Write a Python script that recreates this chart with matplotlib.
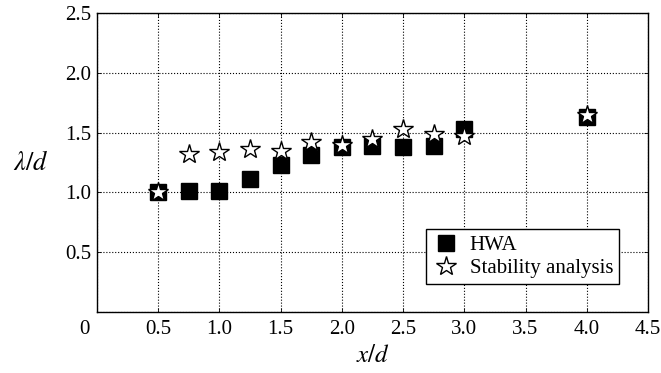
import numpy as np
import matplotlib.pyplot as plt
import matplotlib.transforms as mtransforms

plt.rcParams['font.family'] = 'Liberation Serif'
plt.rcParams['mathtext.fontset'] = 'stix'

# HWA measurements
x_hwa = [0.5, 0.75, 1.0, 1.25, 1.5, 1.75, 2.0, 2.25, 2.5, 2.75, 3.0, 4.0]
y_hwa = [1.00, 1.01, 1.01, 1.11, 1.23, 1.31, 1.38, 1.39, 1.38, 1.39, 1.53, 1.63]

# stability analysis
x_sa = [0.5, 0.75, 1.0, 1.25, 1.5, 1.75, 2.0, 2.25, 2.5, 2.75, 3.0, 4.0]
y_sa = [1.00, 1.32, 1.34, 1.36, 1.35, 1.42, 1.40, 1.45, 1.53, 1.49, 1.47, 1.65]

xticks = [0, 0.5, 1.0, 1.5, 2.0, 2.5, 3.0, 3.5, 4.0, 4.5]
xticklabels = ['0', '0.5', '1.0', '1.5', '2.0', '2.5', '3.0', '3.5', '4.0', '4.5']
yticks = [0, 0.5, 1.0, 1.5, 2.0, 2.5]
yticklabels = ['', '0.5', '1.0', '1.5', '2.0', '2.5']

fig = plt.figure(figsize=(6.61, 3.73), dpi=100)
ax = fig.add_axes([0.1467, 0.1635, 0.8336, 0.8015])

ax.plot(x_hwa, y_hwa, 's', color='black', markersize=11, label='HWA', zorder=3)
ax.plot(x_sa, y_sa, '*', markerfacecolor='white', markeredgecolor='black',
        markeredgewidth=1.0, markersize=15, label='Stability analysis', zorder=4)

ax.set_xlim(0, 4.5)
ax.set_ylim(0, 2.5)
ax.set_xticks(xticks)
ax.set_xticklabels(xticklabels)
ax.set_yticks(yticks)
ax.set_yticklabels(yticklabels)

ax.tick_params(direction='in', top=True, right=True, labelsize=15, length=3, width=0.6)
ax.tick_params(axis='x', pad=6)
ax.tick_params(axis='y', pad=4)
ax.grid(True, linestyle=':', color='black', linewidth=0.8)
for s in ax.spines.values():
    s.set_linewidth(1.0)

# matlab export puts the "0" a bit to the left of the axis
lab0 = ax.get_xticklabels()[0]
lab0.set_transform(lab0.get_transform() + mtransforms.ScaledTranslation(-13 / 100, 0, fig.dpi_scale_trans))

ax.set_xlabel('$x/d$', fontsize=18, labelpad=4)
ax.set_ylabel(r'$\lambda/d$', fontsize=19, rotation=0, va='center', labelpad=0)
ax.yaxis.set_label_coords(-0.12, 0.5)

leg = ax.legend(loc='lower left', bbox_to_anchor=(0.597, 0.093), fontsize=15,
                frameon=True, fancybox=False, edgecolor='black', framealpha=1,
                handletextpad=0.5, borderpad=0.3, labelspacing=0.15, handlelength=1.3,
                borderaxespad=0)
leg.get_frame().set_linewidth(1.0)

fig.savefig('out.png', dpi=100)
